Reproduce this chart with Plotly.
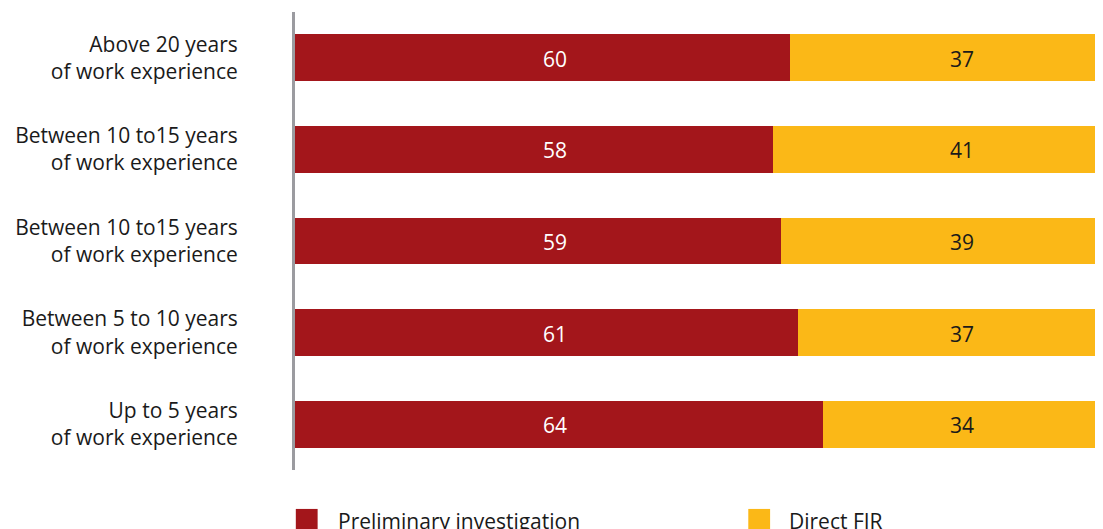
import plotly.graph_objects as go

# -----------------------------------
# Data
# -----------------------------------

categories = [
    "Above 20 years<br>of work experience",
    "Between 10 to15 years<br>of work experience",
    "Between 10 to15 years<br>of work experience",
    "Between 5 to 10 years<br>of work experience",
    "Up to 5 years<br>of work experience",
]

preliminary = [60, 58, 59, 61, 64]
direct_fir = [37, 41, 39, 37, 34]

series_names = ["Preliminary investigation", "Direct FIR"]

RED = "#A3161B"
YELLOW = "#FBB817"
FONT = "Open Sans"

# value labels sit in fixed columns in the original, not at segment centres
LABEL_COL_RED = 31.5
LABEL_COL_YELLOW = 80.9

positions = list(range(len(categories)))

fig = go.Figure()

# -----------------------------------
# Stacked bars
# -----------------------------------

fig.add_trace(
    go.Bar(
        y=positions,
        x=preliminary,
        orientation="h",
        name=series_names[0],
        marker=dict(color=RED, line=dict(width=0)),
        showlegend=False,
        hoverinfo="x+name",
    )
)

fig.add_trace(
    go.Bar(
        y=positions,
        x=direct_fir,
        orientation="h",
        name=series_names[1],
        marker=dict(color=YELLOW, line=dict(width=0)),
        showlegend=False,
        hoverinfo="x+name",
    )
)

# -----------------------------------
# Value labels
# -----------------------------------

for pos, red_val, yel_val in zip(positions, preliminary, direct_fir):
    for col, val, colour in [
        (LABEL_COL_RED, red_val, "white"),
        (LABEL_COL_YELLOW, yel_val, "#1a1a1a"),
    ]:
        fig.add_annotation(
            x=col,
            y=pos,
            text=str(val),
            showarrow=False,
            xanchor="center",
            yanchor="middle",
            yshift=-1,
            font=dict(color=colour, size=21, family=FONT),
        )

# -----------------------------------
# Custom legend (big square swatches)
# -----------------------------------

legend_items = [
    (series_names[0], RED, 0.001, 0.051),
    (series_names[1], YELLOW, 0.561, 0.609),
]

for name, color, sx, tx in legend_items:
    fig.add_shape(
        type="rect",
        xref="paper", yref="paper",
        x0=sx, x1=sx + 0.027,
        y0=-0.135, y1=-0.085,
        fillcolor=color,
        line=dict(width=0),
    )
    fig.add_annotation(
        xref="paper", yref="paper",
        x=tx, y=-0.112,
        text=name,
        showarrow=False,
        xanchor="left",
        yanchor="middle",
        font=dict(size=21, color="#1a1a1a", family=FONT),
    )

# page body has an 8px margin, so the figure is shifted by 8px
fig.update_layout(
    barmode="stack",
    bargap=0.49,
    width=1095,
    height=521,
    margin=dict(l=287, r=0, t=4, b=59),
    plot_bgcolor="white",
    paper_bgcolor="white",
    font=dict(family=FONT, size=21, color="#1a1a1a"),
)

fig.update_xaxes(
    range=[0, 98],
    showgrid=False,
    showticklabels=False,
    zeroline=False,
    showline=False,
)

fig.update_yaxes(
    tickmode="array",
    tickvals=positions,
    ticktext=categories,
    range=[4.5, -0.5],
    showgrid=False,
    zeroline=False,
    showline=True,
    linewidth=3,
    linecolor="#9B9BA0",
    ticks="",
    ticklabelstandoff=50,
    tickfont=dict(size=21, family=FONT, color="#1a1a1a"),
)

fig.write_html("out.html")
